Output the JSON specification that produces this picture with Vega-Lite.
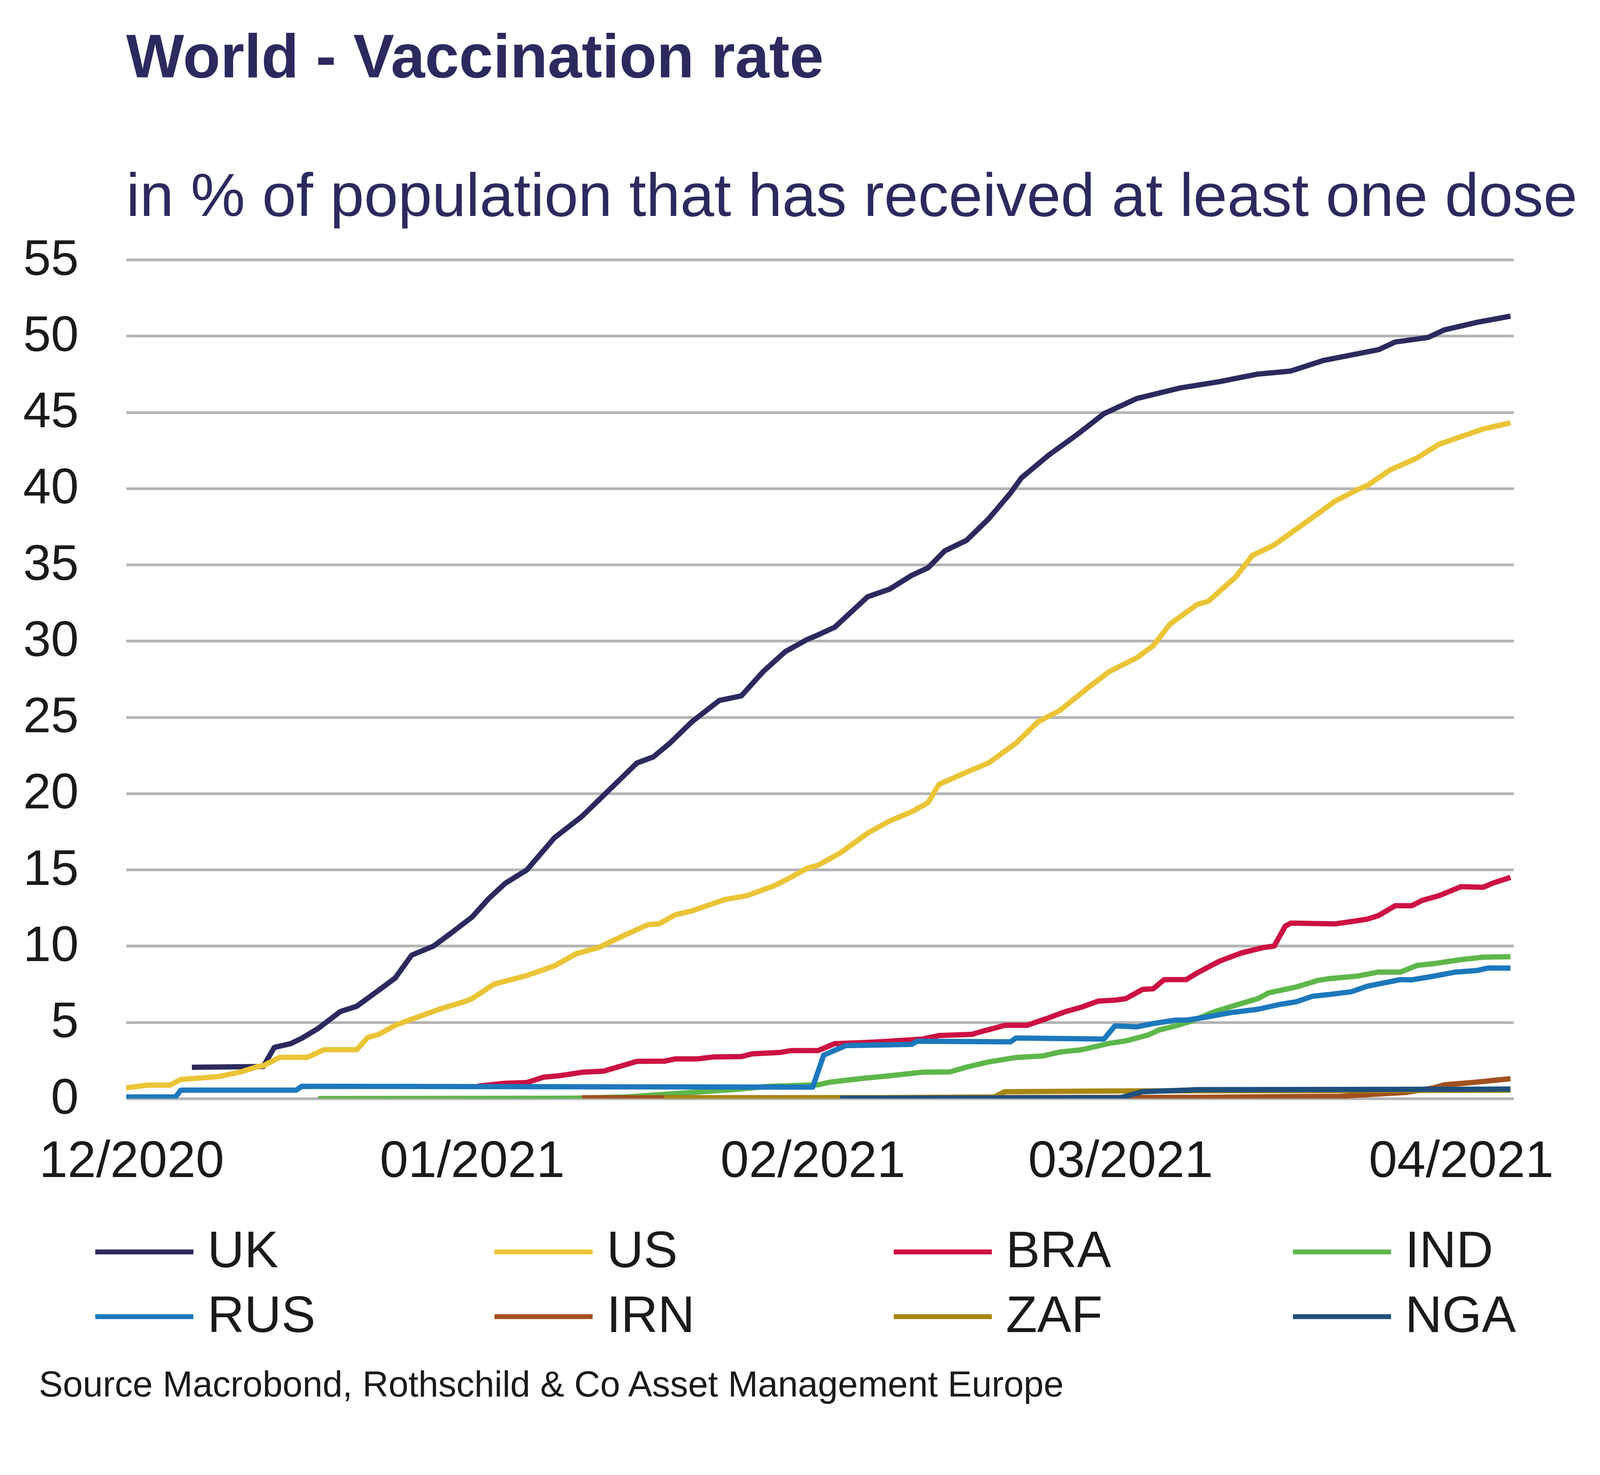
{
  "$schema": "https://vega.github.io/schema/vega-lite/v6.json",
  "description": "World vaccination rate, share of population with at least one dose.",
  "autosize": {"type": "none"},
  "padding": {"left": 323, "top": 665, "right": 349, "bottom": 964},
  "width": 3552,
  "height": 2148,
  "background": "white",
  "title": {
    "text": "World - Vaccination rate",
    "subtitle": "in % of population that has received at least one dose",
    "anchor": "start",
    "frame": "group",
    "font": "Liberation Sans",
    "fontSize": 157,
    "fontWeight": "bold",
    "color": "#2B2A5E",
    "subtitleFont": "Liberation Sans",
    "subtitleFontSize": 156.5,
    "subtitleColor": "#2B2A5E",
    "subtitlePadding": 198,
    "offset": 15
  },
  "data": {
    "values": [
      {"s": "UK", "d": "2020-12-06T12:00Z", "v": 2.05},
      {"s": "UK", "d": "2020-12-13", "v": 2.1},
      {"s": "UK", "d": "2020-12-14", "v": 3.35},
      {"s": "UK", "d": "2020-12-15T12:00Z", "v": 3.6},
      {"s": "UK", "d": "2020-12-16T12:00Z", "v": 3.95},
      {"s": "UK", "d": "2020-12-18", "v": 4.6},
      {"s": "UK", "d": "2020-12-20", "v": 5.7},
      {"s": "UK", "d": "2020-12-21T12:00Z", "v": 6.05},
      {"s": "UK", "d": "2020-12-23T12:00Z", "v": 7.1},
      {"s": "UK", "d": "2020-12-25", "v": 7.9},
      {"s": "UK", "d": "2020-12-26T12:00Z", "v": 9.4},
      {"s": "UK", "d": "2020-12-28T12:00Z", "v": 10.0},
      {"s": "UK", "d": "2020-12-30", "v": 10.8},
      {"s": "UK", "d": "2021-01-01", "v": 11.9},
      {"s": "UK", "d": "2021-01-02T12:00Z", "v": 13.1},
      {"s": "UK", "d": "2021-01-04", "v": 14.1},
      {"s": "UK", "d": "2021-01-06", "v": 15.0},
      {"s": "UK", "d": "2021-01-08T12:00Z", "v": 17.1},
      {"s": "UK", "d": "2021-01-11", "v": 18.5},
      {"s": "UK", "d": "2021-01-13", "v": 19.9},
      {"s": "UK", "d": "2021-01-16", "v": 22.0},
      {"s": "UK", "d": "2021-01-17T12:00Z", "v": 22.4},
      {"s": "UK", "d": "2021-01-19", "v": 23.3},
      {"s": "UK", "d": "2021-01-21", "v": 24.7},
      {"s": "UK", "d": "2021-01-23T12:00Z", "v": 26.1},
      {"s": "UK", "d": "2021-01-25T12:00Z", "v": 26.4},
      {"s": "UK", "d": "2021-01-27T12:00Z", "v": 28.0},
      {"s": "UK", "d": "2021-01-29T12:00Z", "v": 29.3},
      {"s": "UK", "d": "2021-01-31T12:00Z", "v": 30.1},
      {"s": "UK", "d": "2021-02-01T12:00Z", "v": 30.4},
      {"s": "UK", "d": "2021-02-03", "v": 30.9},
      {"s": "UK", "d": "2021-02-06", "v": 32.9},
      {"s": "UK", "d": "2021-02-08", "v": 33.4},
      {"s": "UK", "d": "2021-02-10", "v": 34.3},
      {"s": "UK", "d": "2021-02-11T12:00Z", "v": 34.8},
      {"s": "UK", "d": "2021-02-13", "v": 35.9},
      {"s": "UK", "d": "2021-02-15", "v": 36.6},
      {"s": "UK", "d": "2021-02-17", "v": 38.0},
      {"s": "UK", "d": "2021-02-19", "v": 39.7},
      {"s": "UK", "d": "2021-02-20", "v": 40.7},
      {"s": "UK", "d": "2021-02-22T12:00Z", "v": 42.2},
      {"s": "UK", "d": "2021-02-25", "v": 43.5},
      {"s": "UK", "d": "2021-02-27T12:00Z", "v": 44.9},
      {"s": "UK", "d": "2021-03-02T12:00Z", "v": 45.9},
      {"s": "UK", "d": "2021-03-06T12:00Z", "v": 46.6},
      {"s": "UK", "d": "2021-03-10", "v": 47.0},
      {"s": "UK", "d": "2021-03-13T12:00Z", "v": 47.5},
      {"s": "UK", "d": "2021-03-16T12:00Z", "v": 47.7},
      {"s": "UK", "d": "2021-03-19T12:00Z", "v": 48.4},
      {"s": "UK", "d": "2021-03-22", "v": 48.75},
      {"s": "UK", "d": "2021-03-24T12:00Z", "v": 49.1},
      {"s": "UK", "d": "2021-03-26", "v": 49.6},
      {"s": "UK", "d": "2021-03-29", "v": 49.9},
      {"s": "UK", "d": "2021-03-30T12:00Z", "v": 50.4},
      {"s": "UK", "d": "2021-04-02T12:00Z", "v": 50.9},
      {"s": "UK", "d": "2021-04-05T12:00Z", "v": 51.3},

      {"s": "US", "d": "2020-11-30T12:00Z", "v": 0.7},
      {"s": "US", "d": "2020-12-02T12:00Z", "v": 0.88},
      {"s": "US", "d": "2020-12-04T12:00Z", "v": 0.88},
      {"s": "US", "d": "2020-12-05T12:00Z", "v": 1.25},
      {"s": "US", "d": "2020-12-07T12:00Z", "v": 1.36},
      {"s": "US", "d": "2020-12-09", "v": 1.45},
      {"s": "US", "d": "2020-12-11", "v": 1.75},
      {"s": "US", "d": "2020-12-12T12:00Z", "v": 2.1},
      {"s": "US", "d": "2020-12-13", "v": 2.15},
      {"s": "US", "d": "2020-12-14T12:00Z", "v": 2.7},
      {"s": "US", "d": "2020-12-17", "v": 2.7},
      {"s": "US", "d": "2020-12-18T12:00Z", "v": 3.2},
      {"s": "US", "d": "2020-12-21T12:00Z", "v": 3.2},
      {"s": "US", "d": "2020-12-22T12:00Z", "v": 4.0},
      {"s": "US", "d": "2020-12-23T12:00Z", "v": 4.2},
      {"s": "US", "d": "2020-12-25", "v": 4.8},
      {"s": "US", "d": "2020-12-26T12:00Z", "v": 5.2},
      {"s": "US", "d": "2020-12-29", "v": 5.85},
      {"s": "US", "d": "2020-12-31T12:00Z", "v": 6.4},
      {"s": "US", "d": "2021-01-01", "v": 6.55},
      {"s": "US", "d": "2021-01-03", "v": 7.5},
      {"s": "US", "d": "2021-01-06", "v": 8.07},
      {"s": "US", "d": "2021-01-08T12:00Z", "v": 8.7},
      {"s": "US", "d": "2021-01-10T12:00Z", "v": 9.5},
      {"s": "US", "d": "2021-01-12T12:00Z", "v": 9.9},
      {"s": "US", "d": "2021-01-15", "v": 10.75},
      {"s": "US", "d": "2021-01-17", "v": 11.4},
      {"s": "US", "d": "2021-01-18", "v": 11.45},
      {"s": "US", "d": "2021-01-19T12:00Z", "v": 12.05},
      {"s": "US", "d": "2021-01-21", "v": 12.3},
      {"s": "US", "d": "2021-01-24", "v": 13.05},
      {"s": "US", "d": "2021-01-26", "v": 13.3},
      {"s": "US", "d": "2021-01-28T12:00Z", "v": 13.95},
      {"s": "US", "d": "2021-01-30", "v": 14.5},
      {"s": "US", "d": "2021-01-31T12:00Z", "v": 15.1},
      {"s": "US", "d": "2021-02-01T12:00Z", "v": 15.3},
      {"s": "US", "d": "2021-02-03T12:00Z", "v": 16.1},
      {"s": "US", "d": "2021-02-06", "v": 17.4},
      {"s": "US", "d": "2021-02-08", "v": 18.2},
      {"s": "US", "d": "2021-02-10", "v": 18.8},
      {"s": "US", "d": "2021-02-11T12:00Z", "v": 19.4},
      {"s": "US", "d": "2021-02-12T12:00Z", "v": 20.6},
      {"s": "US", "d": "2021-02-15", "v": 21.4},
      {"s": "US", "d": "2021-02-17", "v": 22.0},
      {"s": "US", "d": "2021-02-19T12:00Z", "v": 23.3},
      {"s": "US", "d": "2021-02-21T12:00Z", "v": 24.7},
      {"s": "US", "d": "2021-02-23T12:00Z", "v": 25.45},
      {"s": "US", "d": "2021-02-26", "v": 26.9},
      {"s": "US", "d": "2021-02-28", "v": 28.0},
      {"s": "US", "d": "2021-03-02T12:00Z", "v": 28.9},
      {"s": "US", "d": "2021-03-04", "v": 29.7},
      {"s": "US", "d": "2021-03-05T12:00Z", "v": 31.1},
      {"s": "US", "d": "2021-03-08", "v": 32.4},
      {"s": "US", "d": "2021-03-09", "v": 32.6},
      {"s": "US", "d": "2021-03-11T12:00Z", "v": 34.2},
      {"s": "US", "d": "2021-03-13", "v": 35.6},
      {"s": "US", "d": "2021-03-15", "v": 36.3},
      {"s": "US", "d": "2021-03-18T12:00Z", "v": 38.1},
      {"s": "US", "d": "2021-03-20T12:00Z", "v": 39.15},
      {"s": "US", "d": "2021-03-22T12:00Z", "v": 39.9},
      {"s": "US", "d": "2021-03-23T12:00Z", "v": 40.2},
      {"s": "US", "d": "2021-03-25T12:00Z", "v": 41.2},
      {"s": "US", "d": "2021-03-28", "v": 42.0},
      {"s": "US", "d": "2021-03-30", "v": 42.9},
      {"s": "US", "d": "2021-04-01", "v": 43.4},
      {"s": "US", "d": "2021-04-03", "v": 43.9},
      {"s": "US", "d": "2021-04-05T12:00Z", "v": 44.3},

      {"s": "BRA", "d": "2021-01-01T12:00Z", "v": 0.8},
      {"s": "BRA", "d": "2021-01-02", "v": 0.85},
      {"s": "BRA", "d": "2021-01-04", "v": 1.0},
      {"s": "BRA", "d": "2021-01-06", "v": 1.05},
      {"s": "BRA", "d": "2021-01-07T12:00Z", "v": 1.4},
      {"s": "BRA", "d": "2021-01-09", "v": 1.5},
      {"s": "BRA", "d": "2021-01-11", "v": 1.72},
      {"s": "BRA", "d": "2021-01-13", "v": 1.8},
      {"s": "BRA", "d": "2021-01-16", "v": 2.44},
      {"s": "BRA", "d": "2021-01-18T12:00Z", "v": 2.45},
      {"s": "BRA", "d": "2021-01-19T12:00Z", "v": 2.6},
      {"s": "BRA", "d": "2021-01-21T12:00Z", "v": 2.6},
      {"s": "BRA", "d": "2021-01-23", "v": 2.73},
      {"s": "BRA", "d": "2021-01-25T12:00Z", "v": 2.75},
      {"s": "BRA", "d": "2021-01-26T12:00Z", "v": 2.93},
      {"s": "BRA", "d": "2021-01-29", "v": 3.02},
      {"s": "BRA", "d": "2021-01-30", "v": 3.14},
      {"s": "BRA", "d": "2021-02-01T12:00Z", "v": 3.15},
      {"s": "BRA", "d": "2021-02-03", "v": 3.6},
      {"s": "BRA", "d": "2021-02-06", "v": 3.68},
      {"s": "BRA", "d": "2021-02-08", "v": 3.76},
      {"s": "BRA", "d": "2021-02-11", "v": 3.9},
      {"s": "BRA", "d": "2021-02-12T12:00Z", "v": 4.13},
      {"s": "BRA", "d": "2021-02-15T12:00Z", "v": 4.21},
      {"s": "BRA", "d": "2021-02-16T12:00Z", "v": 4.42},
      {"s": "BRA", "d": "2021-02-18T12:00Z", "v": 4.8},
      {"s": "BRA", "d": "2021-02-20T12:00Z", "v": 4.8},
      {"s": "BRA", "d": "2021-02-22T12:00Z", "v": 5.3},
      {"s": "BRA", "d": "2021-02-24", "v": 5.7},
      {"s": "BRA", "d": "2021-02-25T12:00Z", "v": 6.0},
      {"s": "BRA", "d": "2021-02-27", "v": 6.39},
      {"s": "BRA", "d": "2021-02-28T12:00Z", "v": 6.45},
      {"s": "BRA", "d": "2021-03-01T12:00Z", "v": 6.55},
      {"s": "BRA", "d": "2021-03-03", "v": 7.15},
      {"s": "BRA", "d": "2021-03-04", "v": 7.2},
      {"s": "BRA", "d": "2021-03-05", "v": 7.8},
      {"s": "BRA", "d": "2021-03-07", "v": 7.8},
      {"s": "BRA", "d": "2021-03-08", "v": 8.24},
      {"s": "BRA", "d": "2021-03-10", "v": 9.0},
      {"s": "BRA", "d": "2021-03-12", "v": 9.54},
      {"s": "BRA", "d": "2021-03-14", "v": 9.9},
      {"s": "BRA", "d": "2021-03-15", "v": 10.0},
      {"s": "BRA", "d": "2021-03-16", "v": 11.3},
      {"s": "BRA", "d": "2021-03-16T12:00Z", "v": 11.5},
      {"s": "BRA", "d": "2021-03-20T12:00Z", "v": 11.45},
      {"s": "BRA", "d": "2021-03-22", "v": 11.6},
      {"s": "BRA", "d": "2021-03-23T12:00Z", "v": 11.77},
      {"s": "BRA", "d": "2021-03-24T12:00Z", "v": 12.0},
      {"s": "BRA", "d": "2021-03-26", "v": 12.64},
      {"s": "BRA", "d": "2021-03-27T12:00Z", "v": 12.64},
      {"s": "BRA", "d": "2021-03-28T12:00Z", "v": 13.0},
      {"s": "BRA", "d": "2021-03-30", "v": 13.3},
      {"s": "BRA", "d": "2021-04-01", "v": 13.89},
      {"s": "BRA", "d": "2021-04-03", "v": 13.85},
      {"s": "BRA", "d": "2021-04-04", "v": 14.15},
      {"s": "BRA", "d": "2021-04-05T12:00Z", "v": 14.5},

      {"s": "IND", "d": "2020-12-18", "v": 0.0},
      {"s": "IND", "d": "2021-01-10", "v": 0.02},
      {"s": "IND", "d": "2021-01-15", "v": 0.1},
      {"s": "IND", "d": "2021-01-20", "v": 0.35},
      {"s": "IND", "d": "2021-01-25", "v": 0.6},
      {"s": "IND", "d": "2021-01-28", "v": 0.8},
      {"s": "IND", "d": "2021-02-01T12:00Z", "v": 0.9},
      {"s": "IND", "d": "2021-02-02T12:00Z", "v": 1.07},
      {"s": "IND", "d": "2021-02-05T12:00Z", "v": 1.32},
      {"s": "IND", "d": "2021-02-08", "v": 1.49},
      {"s": "IND", "d": "2021-02-11", "v": 1.73},
      {"s": "IND", "d": "2021-02-13T12:00Z", "v": 1.75},
      {"s": "IND", "d": "2021-02-15", "v": 2.06},
      {"s": "IND", "d": "2021-02-17", "v": 2.4},
      {"s": "IND", "d": "2021-02-19T12:00Z", "v": 2.69},
      {"s": "IND", "d": "2021-02-22", "v": 2.8},
      {"s": "IND", "d": "2021-02-23T12:00Z", "v": 3.05},
      {"s": "IND", "d": "2021-02-25T12:00Z", "v": 3.2},
      {"s": "IND", "d": "2021-02-28", "v": 3.62},
      {"s": "IND", "d": "2021-03-01T12:00Z", "v": 3.78},
      {"s": "IND", "d": "2021-03-03T12:00Z", "v": 4.16},
      {"s": "IND", "d": "2021-03-04T12:00Z", "v": 4.49},
      {"s": "IND", "d": "2021-03-06", "v": 4.76},
      {"s": "IND", "d": "2021-03-07T12:00Z", "v": 5.08},
      {"s": "IND", "d": "2021-03-09T12:00Z", "v": 5.68},
      {"s": "IND", "d": "2021-03-11T12:00Z", "v": 6.12},
      {"s": "IND", "d": "2021-03-13T12:00Z", "v": 6.55},
      {"s": "IND", "d": "2021-03-14T12:00Z", "v": 6.93},
      {"s": "IND", "d": "2021-03-17", "v": 7.31},
      {"s": "IND", "d": "2021-03-19", "v": 7.75},
      {"s": "IND", "d": "2021-03-20", "v": 7.86},
      {"s": "IND", "d": "2021-03-22T12:00Z", "v": 8.02},
      {"s": "IND", "d": "2021-03-24T12:00Z", "v": 8.29},
      {"s": "IND", "d": "2021-03-26T12:00Z", "v": 8.29},
      {"s": "IND", "d": "2021-03-28", "v": 8.73},
      {"s": "IND", "d": "2021-03-29T12:00Z", "v": 8.84},
      {"s": "IND", "d": "2021-04-01", "v": 9.11},
      {"s": "IND", "d": "2021-04-03", "v": 9.27},
      {"s": "IND", "d": "2021-04-05T12:00Z", "v": 9.3},

      {"s": "RUS", "d": "2020-11-30T12:00Z", "v": 0.1},
      {"s": "RUS", "d": "2020-12-05", "v": 0.1},
      {"s": "RUS", "d": "2020-12-05T12:00Z", "v": 0.55},
      {"s": "RUS", "d": "2020-12-16", "v": 0.55},
      {"s": "RUS", "d": "2020-12-16T12:00Z", "v": 0.8},
      {"s": "RUS", "d": "2021-02-01", "v": 0.75},
      {"s": "RUS", "d": "2021-02-02", "v": 2.85},
      {"s": "RUS", "d": "2021-02-04", "v": 3.47},
      {"s": "RUS", "d": "2021-02-10", "v": 3.55},
      {"s": "RUS", "d": "2021-02-10T12:00Z", "v": 3.76},
      {"s": "RUS", "d": "2021-02-19", "v": 3.72},
      {"s": "RUS", "d": "2021-02-19T12:00Z", "v": 3.97},
      {"s": "RUS", "d": "2021-02-27T12:00Z", "v": 3.9},
      {"s": "RUS", "d": "2021-02-28T12:00Z", "v": 4.76},
      {"s": "RUS", "d": "2021-03-02T12:00Z", "v": 4.7},
      {"s": "RUS", "d": "2021-03-04", "v": 4.92},
      {"s": "RUS", "d": "2021-03-06", "v": 5.14},
      {"s": "RUS", "d": "2021-03-07", "v": 5.14},
      {"s": "RUS", "d": "2021-03-08T12:00Z", "v": 5.3},
      {"s": "RUS", "d": "2021-03-11", "v": 5.63},
      {"s": "RUS", "d": "2021-03-13T12:00Z", "v": 5.85},
      {"s": "RUS", "d": "2021-03-15T12:00Z", "v": 6.17},
      {"s": "RUS", "d": "2021-03-17", "v": 6.34},
      {"s": "RUS", "d": "2021-03-18T12:00Z", "v": 6.71},
      {"s": "RUS", "d": "2021-03-20", "v": 6.82},
      {"s": "RUS", "d": "2021-03-22", "v": 7.0},
      {"s": "RUS", "d": "2021-03-23T12:00Z", "v": 7.37},
      {"s": "RUS", "d": "2021-03-26T12:00Z", "v": 7.8},
      {"s": "RUS", "d": "2021-03-27T12:00Z", "v": 7.78},
      {"s": "RUS", "d": "2021-03-29T12:00Z", "v": 8.02},
      {"s": "RUS", "d": "2021-03-31T12:00Z", "v": 8.29},
      {"s": "RUS", "d": "2021-04-02T12:00Z", "v": 8.4},
      {"s": "RUS", "d": "2021-04-03T12:00Z", "v": 8.56},
      {"s": "RUS", "d": "2021-04-05T12:00Z", "v": 8.55},

      {"s": "IRN", "d": "2021-01-11", "v": 0.05},
      {"s": "IRN", "d": "2021-01-30", "v": 0.05},
      {"s": "IRN", "d": "2021-03-08", "v": 0.08},
      {"s": "IRN", "d": "2021-03-21", "v": 0.15},
      {"s": "IRN", "d": "2021-03-27", "v": 0.4},
      {"s": "IRN", "d": "2021-03-29T12:00Z", "v": 0.7},
      {"s": "IRN", "d": "2021-03-30T12:00Z", "v": 0.9},
      {"s": "IRN", "d": "2021-04-02", "v": 1.05},
      {"s": "IRN", "d": "2021-04-05T12:00Z", "v": 1.3},

      {"s": "ZAF", "d": "2021-01-18T12:00Z", "v": 0.03},
      {"s": "ZAF", "d": "2021-02-04", "v": 0.05},
      {"s": "ZAF", "d": "2021-02-17T12:00Z", "v": 0.1},
      {"s": "ZAF", "d": "2021-02-18T12:00Z", "v": 0.45},
      {"s": "ZAF", "d": "2021-03-02", "v": 0.5},
      {"s": "ZAF", "d": "2021-04-05T12:00Z", "v": 0.55},

      {"s": "NGA", "d": "2021-02-03T12:00Z", "v": 0.02},
      {"s": "NGA", "d": "2021-03-01", "v": 0.05},
      {"s": "NGA", "d": "2021-03-03", "v": 0.45},
      {"s": "NGA", "d": "2021-03-08", "v": 0.58},
      {"s": "NGA", "d": "2021-04-05T12:00Z", "v": 0.62}
    ]
  },
  "mark": {"type": "line", "strokeWidth": 13.5, "strokeJoin": "round", "clip": true},
  "encoding": {
    "x": {
      "field": "d",
      "type": "temporal",
      "scale": {
        "type": "utc",
        "domain": [
          {"year": 2020, "month": 11, "date": 30, "hours": 12, "minutes": 30, "utc": true},
          {"year": 2021, "month": 4, "date": 5, "hours": 19, "utc": true}
        ]
      },
      "axis": {
        "title": "Source Macrobond, Rothschild & Co Asset Management Europe",
        "values": [
          {"year": 2020, "month": 12, "date": 1, "utc": true},
          {"year": 2021, "month": 1, "date": 1, "utc": true},
          {"year": 2021, "month": 2, "date": 1, "utc": true},
          {"year": 2021, "month": 3, "date": 1, "utc": true},
          {"year": 2021, "month": 4, "date": 1, "utc": true}
        ],
        "labelExpr": "utcFormat(datum.value, '%m/%Y')",
        "grid": false,
        "labelPadding": 97,
        "labelFontSize": 131,
        "labelLimit": 2000,
        "labelOverlap": false,
        "labelFlush": false,
        "titleFont": "Liberation Sans",
        "titleFontSize": 92,
        "titleFontWeight": "normal",
        "titleColor": "#1a1a1a",
        "titleAlign": "left",
        "titleAnchor": "start",
        "titleBaseline": "alphabetic",
        "titleLimit": 4000,
        "titleX": -224,
        "titleY": 762
      }
    },
    "y": {
      "field": "v",
      "type": "quantitative",
      "scale": {"domain": [0, 55], "nice": false},
      "axis": {
        "title": null,
        "values": [0, 5, 10, 15, 20, 25, 30, 35, 40, 45, 50, 55],
        "labelPadding": 122,
        "labelFontSize": 128,
        "labelLimit": 2000
      }
    },
    "color": {
      "field": "s",
      "type": "nominal",
      "sort": ["UK", "US", "BRA", "IND", "RUS", "IRN", "ZAF", "NGA"],
      "scale": {
        "domain": ["UK", "US", "BRA", "IND", "RUS", "IRN", "ZAF", "NGA"],
        "range": ["#2B2A5E", "#EBC436", "#CC1142", "#5DB74A", "#1C78BC", "#A2501E", "#A8860F", "#1F4F7D"]
      },
      "legend": {
        "title": null,
        "orient": "none",
        "legendX": -23,
        "legendY": 2471,
        "direction": "horizontal",
        "columns": 4,
        "gridAlign": "all",
        "symbolType": "M-2,0H2",
        "symbolSize": 15775,
        "symbolStrokeWidth": 12.6,
        "labelFont": "Liberation Sans",
        "labelFontSize": 131,
        "labelColor": "#1a1a1a",
        "labelLimit": 2000,
        "labelOffset": 92,
        "columnPadding": 425,
        "rowPadding": 31
      }
    }
  },
  "config": {
    "view": {"stroke": null},
    "font": "Liberation Sans",
    "axis": {
      "domain": false,
      "ticks": false,
      "labelFont": "Liberation Sans",
      "labelColor": "#1a1a1a",
      "gridColor": "#B4B4B4",
      "gridWidth": 6.8
    }
  }
}
